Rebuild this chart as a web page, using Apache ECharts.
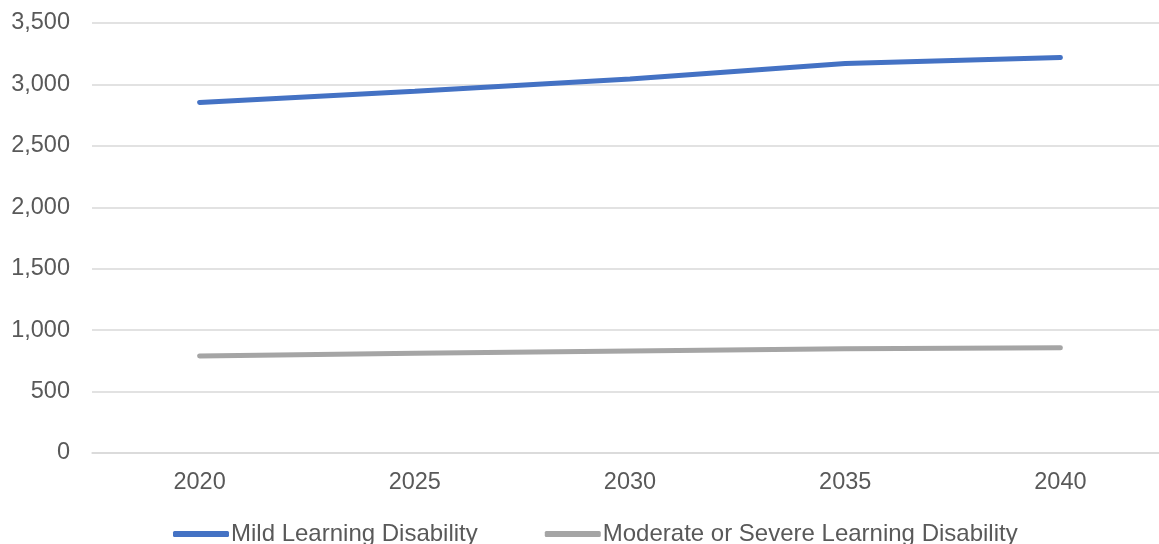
<!DOCTYPE html>
<html>
<head>
<meta charset="utf-8">
<script src="https://cdn.jsdelivr.net/npm/echarts@6/dist/echarts.min.js"></script>
<style>
  html, body { margin: 0; padding: 0; background: #fff; overflow: hidden; }
  #chart { width: 1168px; height: 544px; }
</style>
</head>
<body>
<div id="chart"></div>
<script>
const years = ['2020', '2025', '2030', '2035', '2040']
const mild = [2853, 2945, 3045, 3170, 3220]
const moderate = [790, 812, 830, 848, 856]

const chart = echarts.init(document.getElementById('chart'))

const textColor = '#595959'
const font = '"Liberation Sans", Arial, sans-serif'

// plot area runs past the right edge of the window, as in the original
chart.setOption({
  animation: false,
  grid: {
    left: 92,
    right: 0,
    top: 23,
    bottom: 91
  },
  legend: {
    top: 517,
    left: 168,
    itemWidth: 56,
    itemHeight: 6,
    itemGap: 67,
    icon: 'roundRect',
    textStyle: { color: textColor, fontSize: 24, fontFamily: font, padding: [0, 0, 0, -3] },
    data: [
      { name: 'Mild Learning Disability', itemStyle: { color: '#4472C4' } },
      { name: 'Moderate or Severe Learning Disability', itemStyle: { color: '#A5A5A5' } }
    ]
  },
  xAxis: {
    type: 'category',
    data: years,
    boundaryGap: true,
    axisTick: { show: false },
    axisLine: { lineStyle: { color: '#d9d9d9', width: 1.5 } },
    axisLabel: { color: textColor, fontSize: 23.5, fontFamily: font, margin: 18 }
  },
  yAxis: {
    type: 'value',
    min: 0,
    max: 3500,
    interval: 500,
    axisLine: { show: false },
    axisTick: { show: false },
    splitLine: { lineStyle: { color: '#d9d9d9', width: 1.5 } },
    axisLabel: {
      color: textColor,
      fontSize: 23.5,
      fontFamily: font,
      margin: 22,
      formatter: v => v.toLocaleString('en-US')
    }
  },
  series: [
    {
      name: 'Mild Learning Disability',
      type: 'line',
      data: mild,
      showSymbol: false,
      symbol: 'none',
      lineStyle: { width: 5, color: '#4472C4', cap: 'round' },
      itemStyle: { color: '#4472C4' }
    },
    {
      name: 'Moderate or Severe Learning Disability',
      type: 'line',
      data: moderate,
      showSymbol: false,
      symbol: 'none',
      lineStyle: { width: 5, color: '#A5A5A5', cap: 'round' },
      itemStyle: { color: '#A5A5A5' }
    }
  ]
})
</script>
</body>
</html>
